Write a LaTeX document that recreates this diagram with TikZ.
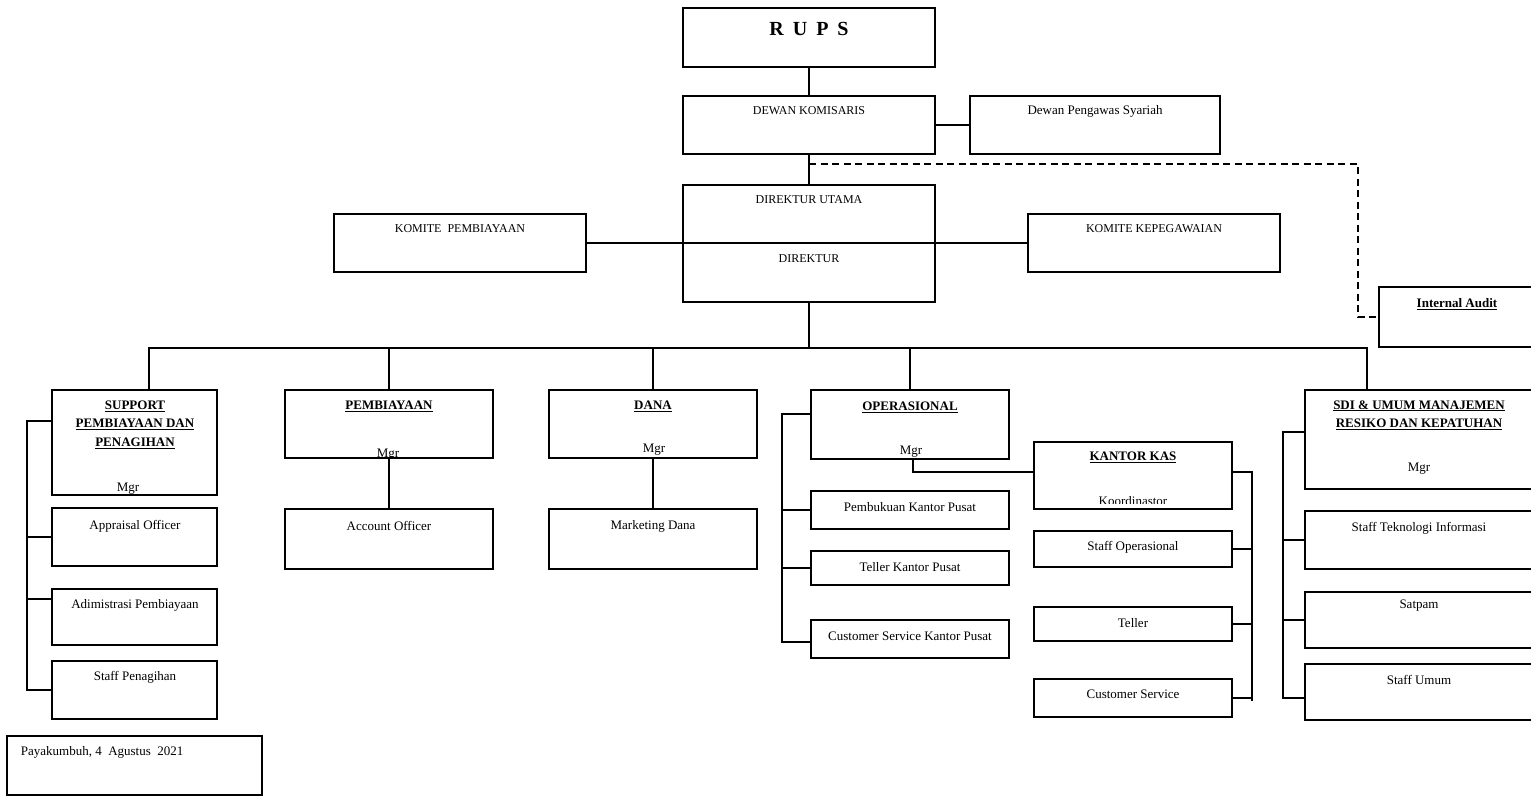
\documentclass[tikz,border=0pt]{standalone}
\usepackage{fontspec}
\setmainfont{Liberation Serif}
\newcommand\bx[5]{\node[box,minimum width=#4pt,minimum height=#5pt] (#1) at ({#2+#4/2},{#3+#5/2}) {};}
\begin{document}
\begin{tikzpicture}[x=1pt,y=-1pt,line width=1.8pt,
  box/.style={draw, rectangle, inner sep=0pt, line width=1.8pt},
  tx/.style={inner sep=0pt, font=\fontsize{13}{15}\selectfont},
  tc/.style={inner sep=0pt, font=\fontsize{12}{14}\selectfont},
  hd/.style={inner sep=0pt, align=center, font=\bfseries\fontsize{13}{18.5}\selectfont},
  conn/.style={line width=1.8pt},
  aud/.style={line width=1.8pt, dash pattern=on 7pt off 4.5pt}]
\useasboundingbox (0,0) rectangle (1531,796);

% boxes
\bx{rups}{683}{8}{252}{59}
\bx{dk}{683}{96}{252}{58}
\bx{dps}{970}{96}{250}{58}
\bx{dir}{683}{185}{252}{117}
\bx{kp}{334}{214}{252}{58}
\bx{kk}{1028}{214}{252}{58}
\bx{ia}{1379}{287}{156}{60}
\bx{sup}{52}{390}{165}{105}
\bx{app}{52}{508}{165}{58}
\bx{adm}{52}{589}{165}{56}
\bx{stp}{52}{661}{165}{58}
\bx{pay}{7}{736}{255}{59}
\bx{pem}{285}{390}{208}{68}
\bx{ao}{285}{509}{208}{60}
\bx{dana}{549}{390}{208}{68}
\bx{md}{549}{509}{208}{60}
\bx{ops}{811}{390}{198}{69}
\bx{pkp}{811}{491}{198}{38}
\bx{tkp}{811}{551}{198}{34}
\bx{cskp}{811}{620}{198}{38}
\bx{kas}{1034}{442}{198}{67}
\bx{so}{1034}{531}{198}{36}
\bx{tel}{1034}{607}{198}{34}
\bx{cs}{1034}{679}{198}{38}
\bx{sdi}{1305}{390}{228}{99}
\bx{sti}{1305}{511}{228}{58}
\bx{sat}{1305}{592}{228}{56}
\bx{su}{1305}{664}{228}{56}

% texts
\node[inner sep=0pt, font=\bfseries\fontsize{20}{24}\selectfont] (t-rups) at (809,29) {R\hspace{0.45em}U\hspace{0.45em}P\hspace{0.45em}S};
\node[tc] (t-dk) at (809,111) {DEWAN KOMISARIS};
\node[tx] (t-dps) at (1095,111) {Dewan Pengawas Syariah};
\node[tc] (t-du) at (809,200) {DIREKTUR UTAMA};
\node[tc] (t-dir) at (809,259) {DIREKTUR};
\node[tc] (t-kp) at (460,229) {KOMITE\ \ PEMBIAYAAN};
\node[tc] (t-kk) at (1154,229) {KOMITE KEPEGAWAIAN};
\node[hd] (t-ia) at (1457,304) {\underline{Internal Audit}};
\node[hd] (t-sup) at (135,424.5) {\underline{SUPPORT}\\\underline{PEMBIAYAAN DAN}\\\underline{PENAGIHAN}};
\node[tx] (t-app) at (135,526) {Appraisal Officer};
\node[tx] (t-adm) at (135,605) {Adimistrasi Pembiayaan};
\node[tx] (t-stp) at (135,677) {Staff Penagihan};
\node[tx, anchor=west] (t-pay) at (20,752) {Payakumbuh, 4\ \ Agustus\ \ 2021};
\node[hd] (t-pem) at (389,406) {\underline{PEMBIAYAAN}};
\node[tx] (t-ao) at (389,526) {Account Officer};
\node[hd] (t-dana) at (653,406) {\underline{DANA}};
\node[tx] (t-md) at (653,526) {Marketing Dana};
\node[hd] (t-ops) at (910,407) {\underline{OPERASIONAL}};
\node[tx] (t-pkp) at (910,507) {Pembukuan Kantor Pusat};
\node[tx] (t-tkp) at (910,567) {Teller Kantor Pusat};
\node[tx] (t-cskp) at (910,636) {Customer Service Kantor Pusat};
\node[hd] (t-kas) at (1133,457) {\underline{KANTOR KAS}};
\node[tx] (t-so) at (1133,547) {Staff Operasional};
\node[tx] (t-tel) at (1133,623) {Teller};
\node[tx] (t-cs) at (1133,694) {Customer Service};
\node[hd] (t-sdi) at (1419,415) {\underline{SDI \& UMUM MANAJEMEN}\\\underline{RESIKO DAN KEPATUHAN}};
\node[tx] (t-sdim) at (1419,469) {Mgr};
\node[tx] (t-sti) at (1419,528) {Staff Teknologi Informasi};
\node[tx] (t-sat) at (1419,606) {Satpam};
\node[tx] (t-su) at (1419,680) {Staff Umum};

% clipped manager lines
\begin{scope}\clip (sup.north west) rectangle (sup.south east);
\node[tx, anchor=base] (t-supm) at (128,491) {Mgr};\end{scope}
\begin{scope}\clip (pem.north west) rectangle (pem.south east);
\node[tx, anchor=base] (t-pemm) at (388,457) {Mgr};\end{scope}
\begin{scope}\clip (dana.north west) rectangle (dana.south east);
\node[tx, anchor=base] (t-danam) at (654,452) {Mgr};\end{scope}
\begin{scope}\clip (ops.north west) rectangle (ops.south east);
\node[tx, anchor=base] (t-opsm) at (911,454) {Mgr};\end{scope}
\begin{scope}\clip (kas.north west) rectangle (1232,503);
\node[tx, anchor=base] (t-kasm) at (1133,505) {Koordinastor};\end{scope}

% connectors
\draw[conn] (rups.south) -- (dk.north);
\draw[conn] (dk.east) -- (dps.west);
\draw[conn] (dk.south) -- (dir.north);
\draw[conn] (kp.east) -- (kk.west);
\coordinate (dstart) at (809,164);
\coordinate (dcorner) at (1358,164);
\draw[aud] (dstart) -- (dcorner) |- (ia.west);

\coordinate (busL) at (149,348);
\coordinate (busR) at (1367,348);
\draw[conn] (dir.south) -- (dir.south |- busR);
\draw[conn] (busL |- sup.north) -- (busL) -- (busR) -- (busR |- sdi.north);
\draw[conn] (busL -| pem.north) -- (pem.north);
\draw[conn] (busL -| dana.north) -- (dana.north);
\draw[conn] (busL -| ops.north) -- (ops.north);
\draw[conn] (pem.south) -- (ao.north);
\draw[conn] (dana.south) -- (md.north);

% support spine
\coordinate (sl) at (27,421);
\coordinate (sla) at (27,599);
\draw[conn] (sup.west |- sl) -- (sl) -- (sl |- stp.west) -- (stp.west);
\draw[conn] (sl |- app.west) -- (app.west);
\draw[conn] (sla) -- (sla -| adm.west);

% operasional spine
\coordinate (ol) at (782,414);
\coordinate (olb) at (782,642);
\draw[conn] (ops.west |- ol) -- (ol) -- (olb) -- (olb -| cskp.west);
\draw[conn] (ol |- pkp.west) -- (pkp.west);
\draw[conn] (ol |- tkp.west) -- (tkp.west);

% kantor kas
\coordinate (om) at (913,472);
\draw[conn] (om |- ops.south) -- (om) -- (om -| kas.west);
\coordinate (kr) at (1252,472);
\coordinate (krb) at (1252,701);
\draw[conn] (om -| kas.east) -- (kr) -- (krb);
\draw[conn] (kr |- so.east) -- (so.east);
\draw[conn] (kr |- tel.east) -- (tel.east);
\draw[conn] (kr |- cs.east) -- (cs.east);

% sdi spine
\coordinate (sr) at (1283,432);
\coordinate (srb) at (1283,698);
\draw[conn] (sdi.west |- sr) -- (sr) -- (srb) -- (srb -| su.west);
\draw[conn] (sr |- sti.west) -- (sti.west);
\draw[conn] (sr |- sat.west) -- (sat.west);
\end{tikzpicture}
\end{document}
